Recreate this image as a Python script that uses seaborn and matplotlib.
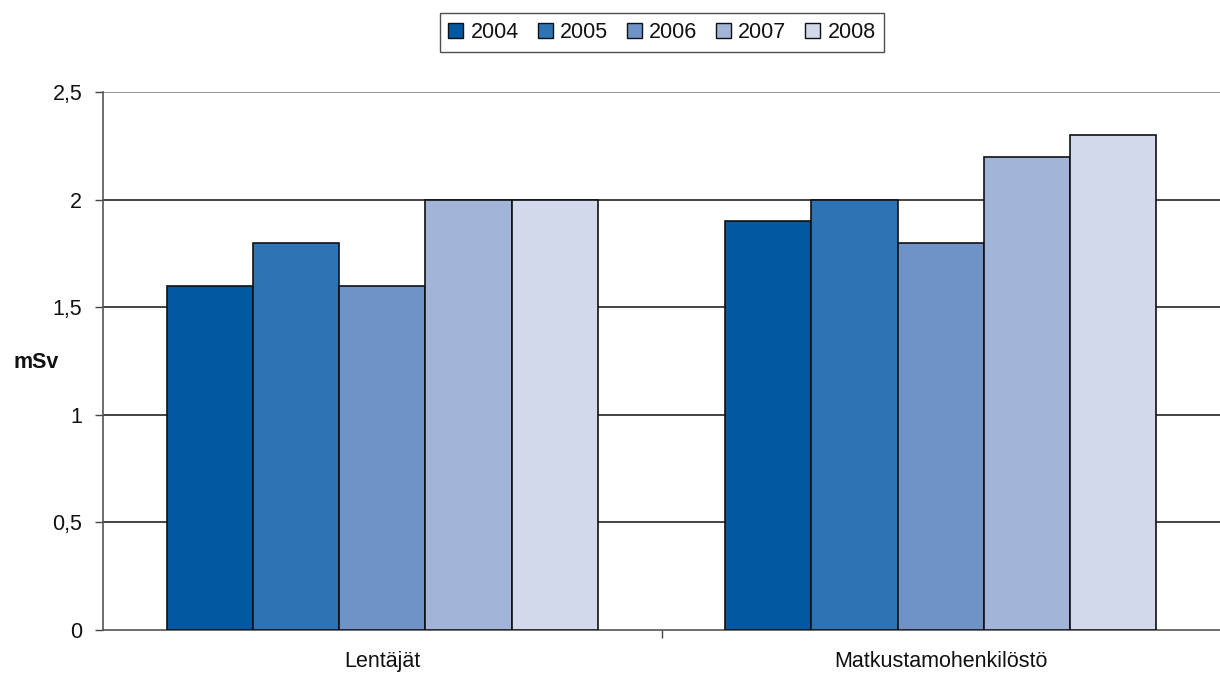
import matplotlib
matplotlib.use("Agg")
import matplotlib.pyplot as plt
import seaborn as sns
import pandas as pd

groups = ["Lentäjät", "Matkustamohenkilöstö"]
years = ["2004", "2005", "2006", "2007", "2008"]
lentajat = [1.6, 1.8, 1.6, 2.0, 2.0]
matkustamo = [1.9, 2.0, 1.8, 2.2, 2.3]
yticks = [0, 0.5, 1, 1.5, 2, 2.5]
ytick_labels = ["0", "0,5", "1", "1,5", "2", "2,5"]
colors = ["#0059A0", "#2E74B4", "#6F93C7", "#A2B4D8", "#D2D9EB"]

rows = []
for g, vals in zip(groups, [lentajat, matkustamo]):
    for y, v in zip(years, vals):
        rows.append({"ryhmä": g, "vuosi": y, "mSv": v})
df = pd.DataFrame(rows)

sns.set_theme(style="white")
plt.rcParams["font.family"] = ["Liberation Sans", "DejaVu Sans"]

fs = 15.5
fig = plt.figure(figsize=(12.2, 6.75), dpi=100)
ax = fig.add_axes([103 / 1220, 45 / 675, 1117 / 1220, 538 / 675])

sns.barplot(data=df, x="ryhmä", y="mSv", hue="vuosi", order=groups,
            hue_order=years, palette=colors, saturation=1, width=0.772, gap=0,
            edgecolor="#111111", linewidth=1.2, ax=ax, legend=True,
            zorder=3)

ax.set_ylim(0, 2.5)
ax.set_xlim(-0.5, 1.5)
ax.set_yticks(yticks)
ax.set_yticklabels(ytick_labels, fontsize=fs, color="#111111")
for yv in yticks[1:]:
    ax.axhline(yv, color="#111111" if yv < 2.5 else "#777777",
               linewidth=1.1, zorder=1)

ax.set_xticks([0, 1])
ax.set_xticklabels(groups, fontsize=fs, color="#111111")
ax.set_xticks([0.5], minor=True)
ax.tick_params(axis="x", which="major", length=0, pad=15)
ax.tick_params(axis="x", which="minor", length=6, width=1, color="#444444",
               direction="out", bottom=True)
ax.tick_params(axis="y", length=6, width=1, color="#444444", direction="out",
               left=True, pad=9)
ax.set_xlabel("")
ax.set_ylabel("mSv", fontsize=fs, fontweight="bold", rotation=0,
              labelpad=0, color="#111111", va="center", ha="center")
ax.yaxis.set_label_coords(-0.060, 0.498)

for side in ["top", "right"]:
    ax.spines[side].set_visible(False)
for side in ["left", "bottom"]:
    ax.spines[side].set_color("#555555")
    ax.spines[side].set_linewidth(1.2)

handles, labels = ax.get_legend_handles_labels()
ax.legend_.remove()
leg = fig.legend(handles, labels, loc="center", bbox_to_anchor=(662 / 1220, 1 - 32.5 / 675),
                 ncol=5, frameon=True, fancybox=False, fontsize=fs,
                 handlelength=0.7, handleheight=0.7, handletextpad=0.35,
                 columnspacing=0.85, borderpad=0.4, edgecolor="#222222")
leg.get_frame().set_linewidth(1.0)
for t in leg.get_texts():
    t.set_color("#111111")
for h in leg.legend_handles:
    h.set_edgecolor("#111111")
    h.set_linewidth(1.0)

fig.savefig("out.png", dpi=100)
